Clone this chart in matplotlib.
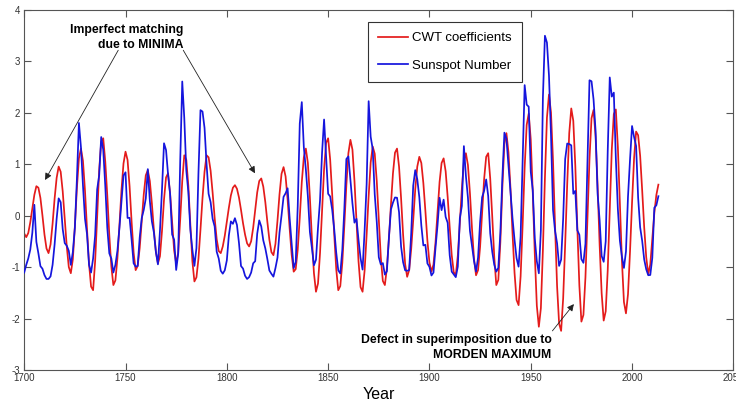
import numpy as np
import matplotlib
matplotlib.use("Agg")
import matplotlib.pyplot as plt

# ---------------- data ----------------
years = list(range(1700, 2014))

# CWT coefficients (red), one value per year
cwt = [
    -0.35, -0.42, -0.34, -0.13, 0.14, 0.40, 0.57, 0.54, 0.34, 0.00,
    -0.37, -0.64, -0.73, -0.56, -0.16, 0.33, 0.73, 0.95, 0.85, 0.47,
    -0.06, -0.60, -1.00, -1.12, -0.85, -0.21, 0.53, 1.11, 1.30, 1.06,
    0.48, -0.27, -0.94, -1.38, -1.45, -0.89, -0.03, 0.88, 1.43, 1.50,
    1.05, 0.39, -0.38, -0.99, -1.35, -1.26, -0.83, -0.19, 0.49, 1.01,
    1.24, 1.08, 0.57, -0.12, -0.72, -1.06, -0.98, -0.63, -0.11, 0.41,
    0.78, 0.88, 0.67, 0.24, -0.28, -0.71, -0.93, -0.79, -0.30, 0.31,
    0.74, 0.82, 0.43, -0.14, -0.68, -0.93, -0.72, -0.07, 0.67, 1.17,
    1.08, 0.58, -0.18, -0.89, -1.28, -1.20, -0.84, -0.27, 0.34, 0.85,
    1.17, 1.13, 0.87, 0.44, -0.05, -0.46, -0.69, -0.73, -0.60, -0.39,
    -0.12, 0.15, 0.39, 0.54, 0.59, 0.52, 0.35, 0.11, -0.15, -0.37,
    -0.54, -0.60, -0.50, -0.24, 0.11, 0.45, 0.67, 0.72, 0.56, 0.26,
    -0.12, -0.47, -0.71, -0.77, -0.55, -0.10, 0.41, 0.81, 0.94, 0.76,
    0.31, -0.25, -0.76, -1.09, -1.04, -0.66, -0.04, 0.65, 1.13, 1.30,
    1.02, 0.35, -0.45, -1.12, -1.48, -1.32, -0.73, 0.10, 0.90, 1.41,
    1.50, 1.09, 0.41, -0.36, -1.04, -1.45, -1.37, -0.92, -0.19, 0.59,
    1.21, 1.47, 1.28, 0.67, -0.12, -0.89, -1.39, -1.48, -1.07, -0.38,
    0.38, 1.03, 1.34, 1.20, 0.67, -0.09, -0.81, -1.27, -1.35, -1.02,
    -0.45, 0.21, 0.82, 1.22, 1.30, 0.95, 0.34, -0.37, -0.94, -1.19,
    -1.06, -0.65, -0.09, 0.51, 0.95, 1.14, 1.02, 0.63, 0.09, -0.49,
    -0.91, -1.09, -0.95, -0.52, 0.08, 0.65, 1.02, 1.11, 0.86, 0.36,
    -0.23, -0.77, -1.10, -1.16, -0.78, -0.15, 0.52, 1.04, 1.21, 0.98,
    0.43, -0.25, -0.84, -1.16, -1.06, -0.61, 0.05, 0.71, 1.14, 1.21,
    0.72, -0.02, -0.81, -1.35, -1.25, -0.52, 0.55, 1.39, 1.60, 1.23,
    0.53, -0.34, -1.11, -1.64, -1.74, -1.18, -0.18, 0.94, 1.76, 1.98,
    1.48, 0.45, -0.75, -1.75, -2.16, -1.80, -0.67, 0.73, 1.90, 2.35,
    2.00, 1.06, -0.20, -1.37, -2.10, -2.24, -1.61, -0.55, 0.61, 1.60,
    2.08, 1.84, 0.96, -0.24, -1.36, -2.06, -1.93, -1.20, -0.05, 1.10,
    1.89, 2.05, 1.54, 0.58, -0.57, -1.51, -2.04, -1.86, -1.06, 0.13,
    1.28, 1.97, 2.06, 1.33, 0.24, -0.87, -1.68, -1.90, -1.53, -0.70,
    0.25, 1.11, 1.63, 1.56, 1.16, 0.49, -0.23, -0.81, -1.14, -0.95,
    -0.45, 0.05, 0.40, 0.60,
]

# yearly sunspot number (blue curve is its standardized version)
ssn = [
    5.0, 11.0, 16.0, 23.0, 36.0, 58.0, 29.0, 20.0, 10.0, 8.0,
    3.0, 0.0, 0.0, 2.0, 11.0, 27.0, 47.0, 63.0, 60.0, 39.0,
    28.0, 26.0, 22.0, 11.0, 21.0, 40.0, 78.0, 122.0, 103.0, 73.0,
    47.0, 35.0, 11.0, 5.0, 16.0, 34.0, 70.0, 81.0, 111.0, 101.0,
    73.0, 40.0, 20.0, 16.0, 5.0, 11.0, 22.0, 40.0, 60.0, 80.9,
    83.4, 47.7, 47.8, 30.7, 12.2, 9.6, 10.2, 32.4, 47.6, 54.0,
    62.9, 85.9, 61.2, 45.1, 36.4, 20.9, 11.4, 37.8, 69.8, 106.1,
    100.8, 81.6, 66.5, 34.8, 30.6, 7.0, 19.8, 92.5, 154.4, 125.9,
    84.8, 68.1, 38.5, 22.8, 10.2, 24.1, 82.9, 132.0, 130.9, 118.1,
    89.9, 66.6, 60.0, 46.9, 41.0, 21.3, 16.0, 6.4, 4.1, 6.8,
    14.5, 34.0, 45.0, 43.1, 47.5, 42.2, 28.1, 10.1, 8.1, 2.5,
    0.0, 1.4, 5.0, 12.2, 13.9, 35.4, 45.8, 41.0, 30.1, 23.9,
    15.6, 6.6, 4.0, 1.8, 8.5, 16.6, 36.3, 49.6, 64.2, 67.0,
    70.9, 47.8, 27.5, 8.5, 13.2, 56.9, 121.5, 138.3, 103.2, 85.7,
    64.6, 36.7, 24.2, 10.7, 15.0, 40.1, 61.5, 98.5, 124.7, 96.3,
    66.6, 64.5, 54.1, 39.0, 20.6, 6.7, 4.3, 22.7, 54.8, 93.8,
    95.8, 77.2, 59.1, 44.0, 47.0, 30.5, 16.3, 7.3, 37.6, 74.0,
    139.0, 111.2, 101.6, 66.2, 44.7, 17.0, 11.3, 12.4, 3.4, 6.0,
    32.3, 54.3, 59.7, 63.7, 63.5, 52.2, 25.4, 13.1, 6.8, 6.3,
    7.1, 35.6, 73.0, 85.1, 78.0, 64.0, 41.8, 26.2, 26.7, 12.1,
    9.5, 2.7, 5.0, 24.4, 42.0, 63.5, 53.8, 62.0, 48.5, 43.9,
    18.6, 5.7, 3.6, 1.4, 9.6, 47.4, 57.1, 103.9, 80.6, 63.6,
    37.6, 26.1, 14.2, 5.8, 16.7, 44.3, 63.9, 69.0, 77.8, 64.9,
    35.7, 21.2, 11.1, 5.7, 8.7, 36.1, 79.7, 114.4, 109.6, 88.8,
    67.8, 47.5, 30.6, 16.3, 9.6, 33.2, 92.6, 151.6, 136.3, 134.7,
    83.9, 69.4, 31.5, 13.9, 4.4, 38.0, 141.7, 190.2, 184.8, 159.0,
    112.3, 53.9, 37.6, 27.9, 10.2, 15.1, 47.0, 93.8, 105.9, 105.5,
    104.5, 66.6, 68.9, 38.0, 34.5, 15.5, 12.6, 27.5, 92.5, 155.4,
    154.6, 140.4, 115.9, 66.6, 45.9, 17.9, 13.4, 29.4, 100.2, 157.6,
    142.6, 145.7, 94.3, 54.6, 29.9, 17.5, 8.6, 21.5, 64.3, 93.3,
    119.6, 111.0, 104.0, 63.7, 40.4, 29.8, 15.2, 7.5, 2.9, 3.1,
    16.5, 55.7, 57.6, 64.7,
]

series_labels = ["CWT coefficients", "Sunspot Number"]
x_ticks = [1700, 1750, 1800, 1850, 1900, 1950, 2000, 2050]
y_ticks = [-3, -2, -1, 0, 1, 2, 3, 4]

# standardized sunspot number
ssn_arr = np.array(ssn)
sunspot = (ssn_arr - ssn_arr.mean()) / ssn_arr.std(ddof=1)

# ---------------- plot ----------------
plt.rcParams['font.family'] = ['Liberation Sans Narrow', 'Liberation Sans', 'DejaVu Sans']

fig = plt.figure(figsize=(7.36, 4.05), dpi=100)
ax = fig.add_axes([0.0329, 0.0864, 0.9635, 0.890])

ax.plot(years, cwt, color='#e41b1b', lw=1.25, label=series_labels[0], zorder=2)
ax.plot(years, sunspot, color='#1515dd', lw=1.25, label=series_labels[1], zorder=3)

ax.set_xlim(1700, 2050)
ax.set_ylim(-3, 4)
ax.set_xticks(x_ticks)
ax.set_yticks(y_ticks)
ax.set_xticklabels([str(t) for t in x_ticks])
ax.set_yticklabels([str(t) for t in y_ticks])

for sp in ax.spines.values():
    sp.set_color('#555555')
    sp.set_linewidth(0.8)
ax.tick_params(direction='in', length=5, width=0.8, color='#555555',
               top=True, right=True, labelsize=7, labelcolor='#333333', pad=2)
ax.tick_params(axis='y', pad=3)

ax.set_xlabel("Year", fontsize=11.5, family=['Liberation Sans', 'DejaVu Sans'], labelpad=3)

leg = ax.legend(loc='upper left', bbox_to_anchor=(0.4848, 0.9653), borderaxespad=0,
                frameon=True, fancybox=False, edgecolor='black',
                handlelength=2.3, handletextpad=0.3, labelspacing=1.15,
                borderpad=0.75, prop={'family': ['Liberation Sans', 'DejaVu Sans'], 'size': 9.5})
leg.get_frame().set_linewidth(0.8)

bold = dict(fontweight='bold', fontsize=8.8, color='black',
            family=['Liberation Sans Narrow', 'Liberation Sans', 'DejaVu Sans'])
ax.text(1778.4, 3.46, "Imperfect matching\ndue to MINIMA", ha='right', va='center',
        multialignment='right', linespacing=1.35, **bold)
ax.text(1960.2, -2.56, "Defect in superimposition due to\nMORDEN MAXIMUM", ha='right',
        va='center', multialignment='right', linespacing=1.35, **bold)

arrow = dict(arrowstyle='-|>', color='#222222', lw=0.6, mutation_scale=10, shrinkA=0, shrinkB=0)
ax.annotate("", xy=(1710.3, 0.69), xytext=(1746.4, 3.21), arrowprops=arrow)
ax.annotate("", xy=(1813.9, 0.82), xytext=(1778.5, 3.21), arrowprops=arrow)
ax.annotate("", xy=(1971.3, -1.72), xytext=(1960.7, -2.24), arrowprops=arrow)

fig.savefig("out.png", dpi=100)
